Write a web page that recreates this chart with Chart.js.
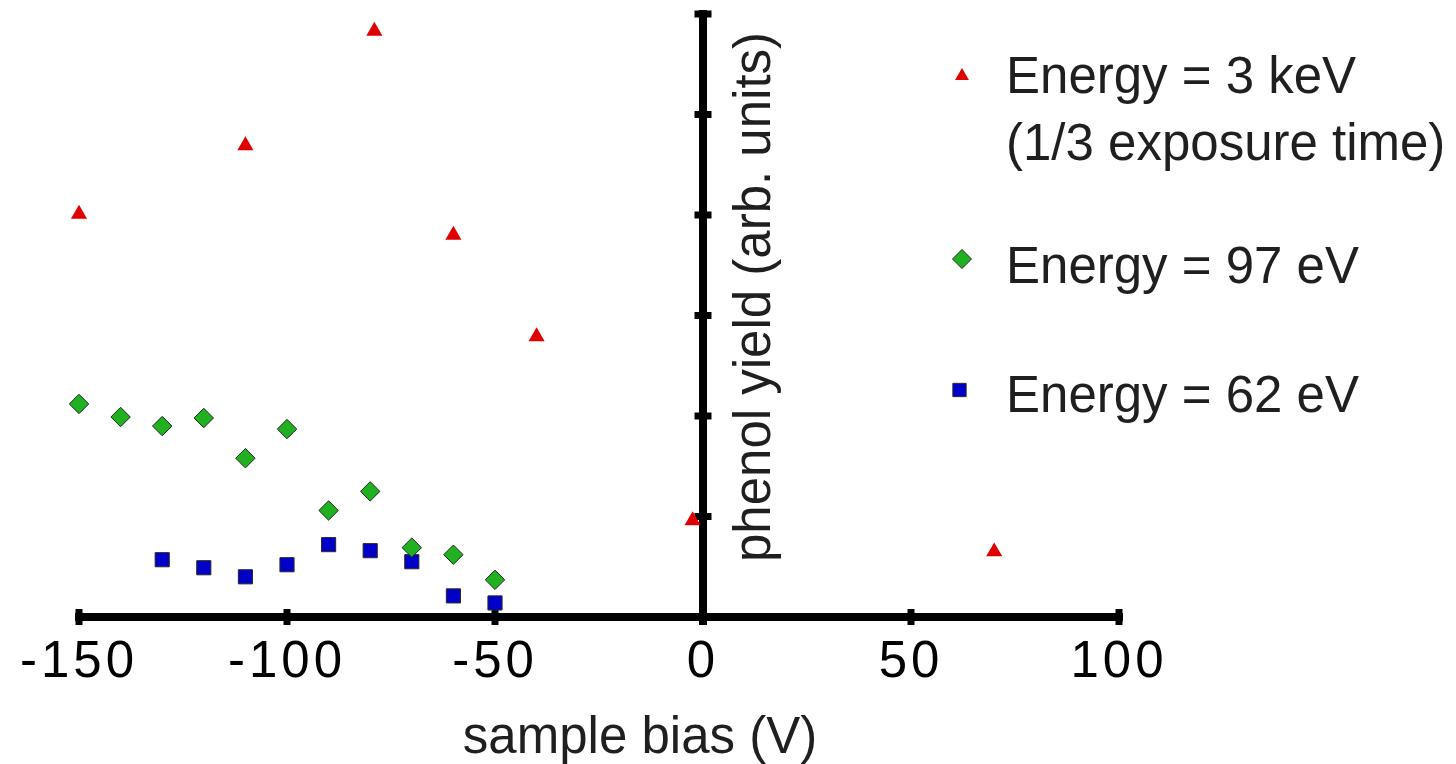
<!DOCTYPE html>
<html>
<head>
<meta charset="utf-8">
<title>phenol yield vs sample bias</title>
<script src="https://cdn.jsdelivr.net/npm/chart.js@4.4.1/dist/chart.umd.min.js"></script>
<style>
  html, body { margin: 0; padding: 0; background: #fff; }
  #wrap { position: relative; width: 1456px; height: 764px; }
</style>
</head>
<body>
<div id="wrap"><canvas id="biasChart"></canvas></div>
<script>
// sample bias (V) and phenol yield (arb. units)
const bias3keV = [-150, -110, -79, -60, -40, -2.5, 70];
const yield3keV = [4.01, 4.69, 5.83, 3.80, 2.79, 0.96, 0.65];

const bias97eV = [-150, -140, -130, -120, -110, -100, -90, -80, -70, -60, -50];
const yield97eV = [2.12, 1.99, 1.90, 1.98, 1.58, 1.87, 1.06, 1.25, 0.69, 0.62, 0.37];

const bias62eV = [-130, -120, -110, -100, -90, -80, -70, -60, -50];
const yield62eV = [0.57, 0.49, 0.40, 0.52, 0.72, 0.66, 0.55, 0.21, 0.14];

const seriesLabels = [
  ['Energy = 3 keV', '(1/3 exposure time)'],
  ['Energy = 97 eV'],
  ['Energy = 62 eV']
];

const xMin = -150, xMax = 100, xStep = 50;
const yMin = 0, yMax = 6, yStep = 1;
const xTitle = 'sample bias (V)';
const yTitle = 'phenol yield (arb. units)';

const FONT = '"Liberation Sans", Arial, Helvetica, sans-serif';
const TEXT = '#1f1f1f';

function toPoints(xs, ys) {
  return xs.map((v, i) => ({x: v, y: ys[i]}));
}

// legend placement (canvas px)
const legendSlots = [
  {mx: 962, my: 76, r: 8, baselines: [93, 160]},
  {mx: 962, my: 259, r: 9.5, baselines: [283]},
  {mx: 959.5, my: 390, r: 9.4, baselines: [412]}
];

const axisDecor = {
  id: 'axisDecor',
  beforeDatasetsDraw(chart) {
    const {ctx, scales: {x, y}} = chart;
    const x0 = x.getPixelForValue(0);
    const y0 = y.getPixelForValue(0);
    ctx.save();
    ctx.fillStyle = '#000';
    x.ticks.forEach(t => {
      const px = x.getPixelForValue(t.value);
      ctx.fillRect(px - 3.5, y0 - 8, 7, 16);
    });
    y.ticks.forEach(t => {
      if (t.value === 0) return;
      const py = y.getPixelForValue(t.value);
      ctx.fillRect(x0 - 8.5, py - 3.5, 17, 7);
    });
    ctx.restore();
  },
  afterDatasetsDraw(chart) {
    // x tick numbers are drawn right after this (ticks.z = 1) and are letter-spaced
    chart.ctx.letterSpacing = '4px';
  },
  afterDraw(chart) {
    const ctx = chart.ctx;
    ctx.letterSpacing = '0px';
    ctx.save();
    ctx.fillStyle = TEXT;
    ctx.font = '51px ' + FONT;

    // axis titles
    ctx.textAlign = 'center';
    ctx.textBaseline = 'alphabetic';
    ctx.fillText(xTitle, 640, 753);
    ctx.save();
    ctx.translate(770, 297);
    ctx.rotate(-Math.PI / 2);
    ctx.fillText(yTitle, 0, 0);
    ctx.restore();

    // legend
    chart.data.datasets.forEach((ds, i) => {
      const slot = legendSlots[i];
      ctx.save();
      ctx.fillStyle = ds.backgroundColor;
      ctx.strokeStyle = ds.borderColor || ds.backgroundColor;
      ctx.lineWidth = ds.borderWidth || 0;
      Chart.helpers.drawPoint(ctx, {
        pointStyle: ds.pointStyle, rotation: 0, radius: slot.r, borderWidth: ds.borderWidth || 0
      }, slot.mx, slot.my);
      ctx.restore();
      ctx.textAlign = 'left';
      seriesLabels[i].forEach((line, j) => {
        ctx.fillText(line, 1006, slot.baselines[j]);
      });
    });
    ctx.restore();
  }
};

new Chart(document.getElementById('biasChart'), {
  type: 'scatter',
  data: {
    datasets: [{
      label: seriesLabels[0].join(' '),
      data: toPoints(bias3keV, yield3keV),
      pointStyle: 'triangle',
      pointRadius: 9.3,
      pointHoverRadius: 9.3,
      backgroundColor: '#e00000',
      borderColor: '#e00000',
      borderWidth: 0,
      clip: false
    }, {
      label: seriesLabels[1].join(' '),
      data: toPoints(bias97eV, yield97eV),
      pointStyle: 'rectRot',
      pointRadius: 9.7,
      pointHoverRadius: 9.7,
      backgroundColor: '#20b020',
      borderColor: '#1c2a1c',
      borderWidth: 1,
      clip: false
    }, {
      label: seriesLabels[2].join(' '),
      data: toPoints(bias62eV, yield62eV),
      pointStyle: 'rect',
      pointRadius: 10,
      pointHoverRadius: 10,
      backgroundColor: '#0000c8',
      borderColor: '#2a2a2a',
      borderWidth: 1,
      clip: false
    }]
  },
  options: {
    responsive: true,
    maintainAspectRatio: false,
    animation: false,
    events: [],
    layout: {
      padding: {left: 79, right: 337, top: 14, bottom: 147}
    },
    plugins: {
      legend: {display: false},
      tooltip: {enabled: false}
    },
    scales: {
      x: {
        type: 'linear',
        position: {y: 0},
        min: xMin,
        max: xMax,
        grid: {display: false, drawTicks: false, lineWidth: 8},
        border: {display: true, color: '#000', width: 8},
        ticks: {
          stepSize: xStep,
          z: 1,
          padding: 20,
          color: '#000',
          maxRotation: 0,
          font: {family: FONT, size: 51, lineHeight: 1}
        }
      },
      y: {
        type: 'linear',
        position: {x: 0},
        min: yMin,
        max: yMax,
        grid: {display: false, drawTicks: false, lineWidth: 16},
        border: {display: true, color: '#000', width: 8},
        ticks: {stepSize: yStep, display: false}
      }
    }
  },
  plugins: [axisDecor]
});
</script>
</body>
</html>
